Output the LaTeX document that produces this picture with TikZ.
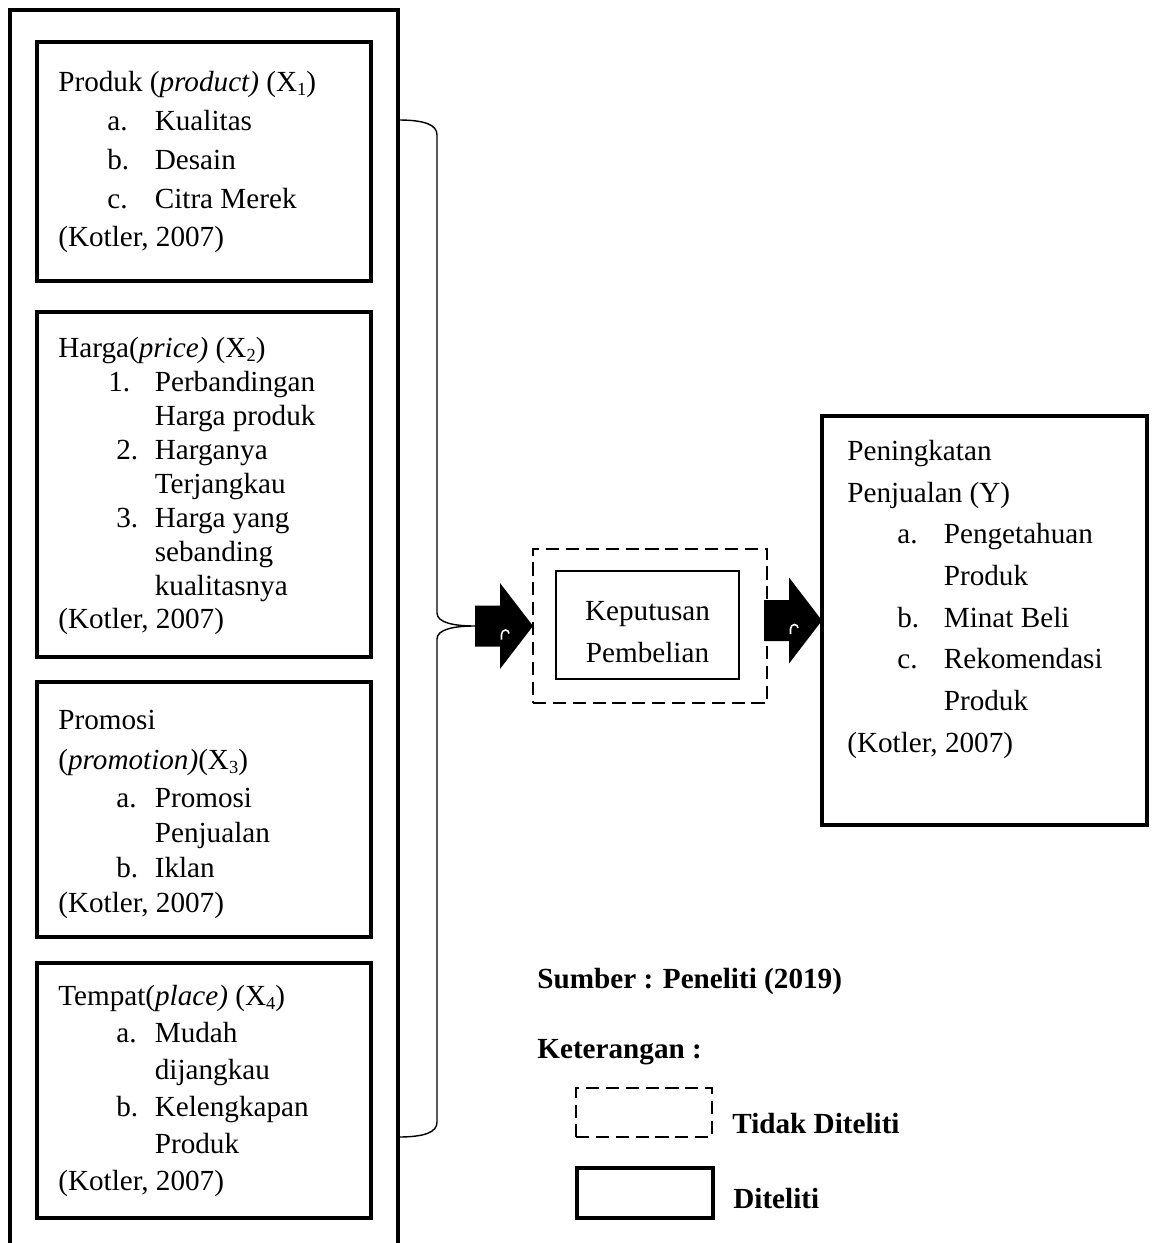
\documentclass[tikz,border=0pt]{standalone}
\usepackage{fontspec}
\setmainfont{Liberation Serif}
\usepackage{tikz}
\usetikzlibrary{calc,positioning}

% list item: label at #1, text column at 1.93cm
\newcommand{\butir}[2]{\hspace*{#1}\makebox[\dimexpr1.93cm-#1\relax][l]{#2}}
\newcommand{\lanjut}{\hspace*{1.93cm}}
% small subscript index
\newcommand{\idx}[1]{\raisebox{-0.12em}{\fontsize{10.5}{10.5}\selectfont #1}}

\begin{document}
\begin{tikzpicture}[font=\fontsize{16.6}{20}\selectfont,
  kotak/.style={draw,line width=2.7pt,outer sep=0pt,inner sep=0pt},
  tipis/.style={draw,line width=1pt,outer sep=0pt,inner sep=0pt},
  putus/.style={draw,line width=1pt,dash pattern=on 7.5pt off 3.8pt,outer sep=0pt,inner sep=0pt},
  teks/.style={anchor=north west,inner sep=0pt,align=left},
  kurung/.style={line width=0.8pt}]

  \useasboundingbox (0,0) rectangle (23.04,-24.86);

  % Variables
  \path (4.08,-12.85) node[kotak,minimum width=7.76cm,minimum height=25.3cm] (bingkai) {};
  \path (bingkai.north) +(0.0,-0.64) node[kotak,anchor=north,minimum width=6.68cm,minimum height=4.78cm] (produk) {};
  \path (produk.south) +(0.0,-0.62) node[kotak,anchor=north,minimum width=6.68cm,minimum height=6.9cm] (harga) {};
  \path (harga.south) +(0.0,-0.50) node[kotak,anchor=north,minimum width=6.68cm,minimum height=5.1cm] (promosi) {};
  \path (promosi.south) +(0.0,-0.52) node[kotak,anchor=north,minimum width=6.68cm,minimum height=5.1cm] (tempat) {};

  \path (produk.north west) +(0.42,-0.58) node[teks,font=\fontsize{16.6}{22.1}\selectfont] (produk-teks) {Produk (\textit{product)} (X\idx{1})\\
    \butir{0.98cm}{a.}Kualitas\\
    \butir{0.98cm}{b.}Desain\\
    \butir{0.98cm}{c.}Citra Merek\\
    (Kotler, 2007)};
  \path (harga.north west) +(0.42,-0.50) node[teks,font=\fontsize{16.6}{19.3}\selectfont] (harga-teks) {Harga(\textit{price)} (X\idx{2})\\
    \butir{1.0cm}{1.}Perbandingan\\
    \lanjut Harga produk\\
    \butir{1.16cm}{2.}Harganya\\
    \lanjut Terjangkau\\
    \butir{1.16cm}{3.}Harga yang\\
    \lanjut sebanding\\
    \lanjut kualitasnya\\
    (Kotler, 2007)};
  \path (promosi.north west) +(0.42,-0.56) node[teks,font=\fontsize{16.6}{19.9}\selectfont] (promosi-teks) {Promosi\\[0.1cm]
    (\textit{promotion)}(X\idx{3})\\[0.06cm]
    \butir{1.16cm}{a.}Promosi\\
    \lanjut Penjualan\\
    \butir{1.16cm}{b.}Iklan\\
    (Kotler, 2007)};
  \path (tempat.north west) +(0.42,-0.44) node[teks,font=\fontsize{16.6}{21.05}\selectfont] (tempat-teks) {Tempat(\textit{place)} (X\idx{4})\\
    \butir{1.16cm}{a.}Mudah\\
    \lanjut dijangkau\\
    \butir{1.16cm}{b.}Kelengkapan\\
    \lanjut Produk\\
    (Kotler, 2007)};

  % Intervening and dependent variable
  \path (13.0,-12.52) node[putus,minimum width=4.68cm,minimum height=3.08cm] (luar) {};
  \path (luar.center) +(-0.05,0.02) node[tipis,minimum width=3.66cm,minimum height=2.16cm] (keputusan) {};
  \path (keputusan.center) +(0.0,-0.14) node[align=center,inner sep=0pt,font=\fontsize{16.6}{23.8}\selectfont] (keputusan-teks) {Keputusan\\Pembelian};
  \path (19.69,-12.41) node[kotak,minimum width=6.5cm,minimum height=8.18cm] (hasil) {};
  \path (hasil.north west) +(0.5,-0.48) node[teks,font=\fontsize{16.6}{23.7}\selectfont] (hasil-teks) {Peningkatan\\
    Penjualan (Y)\\
    \butir{1.0cm}{a.}Pengetahuan\\
    \lanjut Produk\\
    \butir{1.0cm}{b.}Minat Beli\\
    \butir{1.0cm}{c.}Rekomendasi\\
    \lanjut Produk\\
    (Kotler, 2007)};

  % Block arrows
  % \panah{<id>}{<tip>}
  \DeclareDocumentCommand \panah { m m }{%
    \fill #2 -- ($#2+(-0.66,0.86)$) -- ($#2+(-0.66,0.41)$) -- ($#2+(-1.16,0.41)$) -- ($#2+(-1.16,-0.41)$) -- ($#2+(-0.66,-0.41)$) -- ($#2+(-0.66,-0.86)$) -- cycle;
    \draw[white,line width=0.9pt] ($#2+(-0.63,-0.27)$) -- ($#2+(-0.63,-0.17)$) to[out=90,in=180] ($#2+(-0.55,-0.08)$) to[out=0,in=90] ($#2+(-0.48,-0.15)$);
    \coordinate (#1-ekor) at ($#2+(-1.16,0.0)$);
  }
  \panah{panah1}{(luar.west)}
  \panah{panah2}{(hasil.west)}

  % Brace
  \coordinate (kurung-atas) at ($(bingkai.north east)+(0.0,-2.2)$);
  \coordinate (kurung-bawah) at ($(bingkai.north east)+(0.0,-22.54)$);
  \draw[kurung] (kurung-atas) .. controls +(0.55,0) and +(0,0.2) .. ++(0.78,-0.3)
    -- ($(panah1-ekor)+(-0.76,0.26)$) .. controls +(0,-0.2) and +(-0.4,0) .. (panah1-ekor)
    .. controls +(-0.4,0) and +(0,0.2) .. ($(panah1-ekor)+(-0.76,-0.26)$)
    -- ($(kurung-bawah)+(0.78,0.3)$) .. controls +(0,-0.2) and +(0.55,0) .. (kurung-bawah);

  % Legend
  \path (10.74,-19.76) node[anchor=base west,inner sep=0pt,font=\fontsize{16.6}{20}\selectfont\bfseries] (sumber) {Sumber : Peneliti (2019)};
  \path (sumber.base west) +(0.0,-1.40) node[anchor=base west,inner sep=0pt,font=\fontsize{16.6}{20}\selectfont\bfseries] (keterangan) {Keterangan :};
  \path (keterangan.base west) +(2.14,-1.09) node[putus,minimum width=2.72cm,minimum height=0.98cm] (legenda-putus) {};
  \path (legenda-putus.center) +(0.02,-1.61) node[kotak,minimum width=2.72cm,minimum height=1.0cm] (legenda-tebal) {};
  \path (legenda-putus.east) +(0.4,-0.41) node[anchor=base west,inner sep=0pt,font=\fontsize{16.6}{20}\selectfont\bfseries] (tidak-diteliti) {Tidak Diteliti};
  \path (legenda-tebal.east) +(0.4,-0.30) node[anchor=base west,inner sep=0pt,font=\fontsize{16.6}{20}\selectfont\bfseries] (diteliti) {Diteliti};

\end{tikzpicture}
\end{document}
